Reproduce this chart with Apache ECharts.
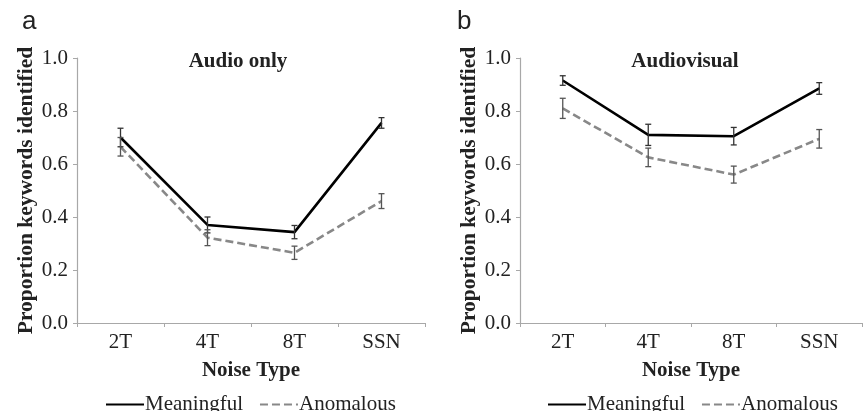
<!DOCTYPE html>
<html>
<head>
<meta charset="utf-8">
<script src="https://cdn.jsdelivr.net/npm/echarts@6/dist/echarts.min.js"></script>
<style>
  html, body { margin: 0; padding: 0; background: #fff; }
  #chart { width: 863px; height: 411px; }
</style>
</head>
<body>
<div id="chart"></div>
<script>
const noiseTypes = ["2T", "4T", "8T", "SSN"];

// panel a: audio only
const audioMeaningful = [0.70, 0.37, 0.343, 0.755];
const audioMeaningfulErr = [0.035, 0.03, 0.025, 0.02];
const audioAnomalous = [0.665, 0.322, 0.265, 0.46];
const audioAnomalousErr = [0.035, 0.03, 0.025, 0.028];

// panel b: audiovisual
const avMeaningful = [0.915, 0.71, 0.705, 0.885];
const avMeaningfulErr = [0.018, 0.04, 0.033, 0.022];
const avAnomalous = [0.81, 0.625, 0.56, 0.695];
const avAnomalousErr = [0.038, 0.035, 0.032, 0.035];

const serif = "Liberation Serif";
const textColor = "#222";
const axisColor = "#a8a8a8";

function errorSeries(name, idx, values, errs, color) {
  return {
    name: name,
    type: "custom",
    xAxisIndex: idx,
    yAxisIndex: idx,
    z: 3,
    data: values.map((v, i) => [i, v - errs[i], v + errs[i]]),
    renderItem: (params, api) => {
      const lo = api.coord([api.value(0), api.value(1)]);
      const hi = api.coord([api.value(0), api.value(2)]);
      const half = 3;
      const style = { stroke: color, lineWidth: 1.3 };
      return {
        type: "group",
        children: [
          { type: "line", shape: { x1: lo[0], y1: lo[1], x2: hi[0], y2: hi[1] }, style },
          { type: "line", shape: { x1: lo[0] - half, y1: lo[1], x2: lo[0] + half, y2: lo[1] }, style },
          { type: "line", shape: { x1: hi[0] - half, y1: hi[1], x2: hi[0] + half, y2: hi[1] }, style },
        ],
      };
    },
  };
}

function lineSeries(name, idx, values, dashed) {
  return {
    name: name,
    type: "line",
    xAxisIndex: idx,
    yAxisIndex: idx,
    symbol: "none",
    z: 2,
    lineStyle: {
      width: 2.6,
      color: dashed ? "#888" : "#000",
      type: dashed ? [8, 4] : "solid",
    },
    itemStyle: { color: dashed ? "#888" : "#000" },
    data: values,
  };
}

function xAxis(idx) {
  return {
    type: "category",
    gridIndex: idx,
    data: noiseTypes,
    boundaryGap: true,
    name: "Noise Type",
    nameLocation: "middle",
    nameGap: 37,
    nameTextStyle: { fontFamily: serif, fontWeight: "bold", fontSize: 21, color: textColor },
    axisLine: { lineStyle: { color: axisColor, width: 1.2 } },
    axisTick: { show: true, length: 4, lineStyle: { color: axisColor } },
    axisLabel: { fontFamily: serif, fontSize: 21, color: textColor, margin: 9 },
    splitLine: { show: false },
  };
}

function yAxis(idx, gap) {
  return {
    type: "value",
    gridIndex: idx,
    min: 0,
    max: 1,
    interval: 0.2,
    name: "Proportion keywords identified",
    nameLocation: "middle",
    nameGap: gap,
    nameTextStyle: { fontFamily: serif, fontWeight: "bold", fontSize: 21.5, color: textColor },
    axisLine: { show: true, lineStyle: { color: axisColor, width: 1.2 } },
    axisTick: { show: true, length: 4, lineStyle: { color: axisColor } },
    axisLabel: {
      fontFamily: serif,
      fontSize: 21,
      color: textColor,
      margin: 9,
      formatter: (v) => v.toFixed(1),
    },
    splitLine: { show: false },
  };
}

function legend(left) {
  return {
    left: left,
    top: 389,
    itemWidth: 38,
    itemHeight: 12,
    itemGap: 16,
    data: ["Meaningful", "Anomalous"],
    itemStyle: { opacity: 0 },
    textStyle: { fontFamily: serif, fontSize: 21, color: textColor, padding: [0, 0, 0, -4] },
    selectedMode: false,
  };
}

const chart = echarts.init(document.getElementById("chart"));
chart.setOption({
  backgroundColor: "#fff",
  animation: false,
  title: [
    { text: "a", left: 17, top: 4, textStyle: { fontFamily: "Liberation Sans", fontWeight: "normal", fontSize: 26, color: textColor } },
    { text: "b", left: 452, top: 4, textStyle: { fontFamily: "Liberation Sans", fontWeight: "normal", fontSize: 26, color: textColor } },
    { text: "Audio only", left: 233, top: 46, textAlign: "center", textStyle: { fontFamily: serif, fontWeight: "bold", fontSize: 21, color: textColor } },
    { text: "Audiovisual", left: 680, top: 46, textAlign: "center", textStyle: { fontFamily: serif, fontWeight: "bold", fontSize: 21, color: textColor } },
  ],
  legend: [legend(100), legend(542)],
  grid: [
    { left: 77, right: 438, top: 58, bottom: 88 },
    { left: 520, right: 1, top: 58, bottom: 88 },
  ],
  xAxis: [xAxis(0), xAxis(1)],
  yAxis: [yAxis(0, 39), yAxis(1, 40)],
  series: [
    lineSeries("Meaningful", 0, audioMeaningful, false),
    lineSeries("Anomalous", 0, audioAnomalous, true),
    errorSeries("err-a-m", 0, audioMeaningful, audioMeaningfulErr, "#333"),
    errorSeries("err-a-a", 0, audioAnomalous, audioAnomalousErr, "#555"),
    lineSeries("Meaningful", 1, avMeaningful, false),
    lineSeries("Anomalous", 1, avAnomalous, true),
    errorSeries("err-b-m", 1, avMeaningful, avMeaningfulErr, "#333"),
    errorSeries("err-b-a", 1, avAnomalous, avAnomalousErr, "#555"),
  ],
});
</script>
</body>
</html>
